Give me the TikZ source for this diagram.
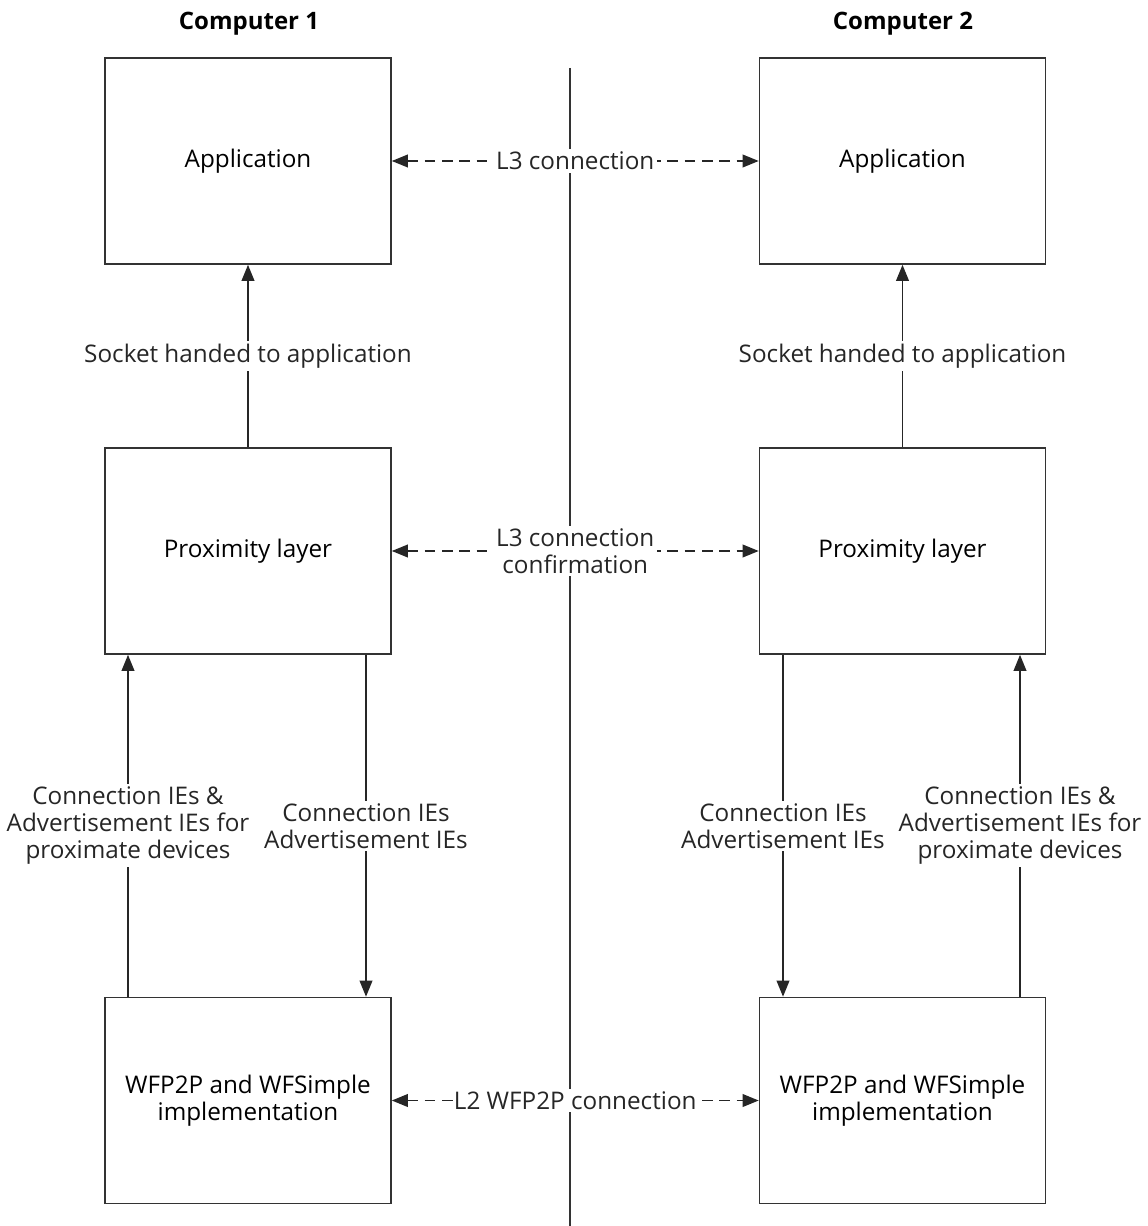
\documentclass[tikz,border=0pt]{standalone}
\usepackage{fontspec}
\setmainfont{Open Sans}
\usetikzlibrary{arrows.meta,calc}
\tikzset{
  layerbox/.style={draw=black!80, line width=1.2pt, minimum width=214.5pt, minimum height=154.5pt, align=center, font=\fontsize{18.2}{20.3}\selectfont},
  arr/.style={-{Triangle[length=12pt,width=9.5pt]}, black!85, line width=1.2pt},
  dasharr/.style={{Triangle[length=12pt,width=9.5pt]}-{Triangle[length=12pt,width=9.5pt]}, black!85, line width=1.2pt, dash pattern=on 8pt off 5pt},
  lbl/.style={fill=white, inner sep=2pt, align=center, font=\fontsize{18.2}{20.3}\selectfont},
  title/.style={font=\bfseries\fontsize{18}{20}\selectfont}
}
\begin{document}
\begin{tikzpicture}[x=0.75pt, y=-0.75pt]
        \useasboundingbox (0,0) rectangle (1147,1226);
        %titles
        \node[title] (t1) at (249,24) {Computer 1};
        \node[title] (t2) at (903,24) {Computer 2};
        %divider
        \coordinate (dtop) at (570,68);
        \coordinate (dbot) at (570,1226);
        \draw[black!80, line width=1.2pt] (dtop) -- (dbot);
        %layers
        \node[layerbox] (app1) at (248,161) {Application};
        \node[layerbox] (app2) at (902.5,161) {Application};
        \node[layerbox] (prox1) at (248,551) {Proximity layer};
        \node[layerbox] (prox2) at (902.5,551) {Proximity layer};
        \node[layerbox] (wf1) at (248,1100.5) {WFP2P and WFSimple\\implementation};
        \node[layerbox] (wf2) at (902.5,1100.5) {WFP2P and WFSimple\\implementation};
        %connections
        \draw[dasharr] (app1) -- node[lbl] (l3) {L3 connection} (app2);
        \draw[dasharr] (prox1) -- node[lbl] (l3c) {L3 connection\\confirmation} (prox2);
        \draw[dasharr] (wf1) -- node[lbl, inner xsep=0pt] (l2) {L2 WFP2P connection} (wf2);
        %sockets
        \draw[arr] (prox1) -- node[lbl] (s1) {Socket handed to application} (app1);
        \draw[arr] (prox2) -- node[lbl] (s2) {Socket handed to application} (app2);
        %IEs
        \draw[arr] ($(wf1.north)+(-120,0)$) -- node[lbl] (up1) {Connection IEs \&\\Advertisement IEs for\\proximate devices} ($(prox1.south)+(-120,0)$);
        \draw[arr] ($(prox1.south)+(118,0)$) -- node[lbl] (dn1) {Connection IEs\\Advertisement IEs} ($(wf1.north)+(118,0)$);
        \draw[arr] ($(prox2.south)+(-119.5,0)$) -- node[lbl] (dn2) {Connection IEs\\Advertisement IEs} ($(wf2.north)+(-119.5,0)$);
        \draw[arr] ($(wf2.north)+(117.5,0)$) -- node[lbl] (up2) {Connection IEs \&\\Advertisement IEs for\\proximate devices} ($(prox2.south)+(117.5,0)$);
\end{tikzpicture}
\end{document}
